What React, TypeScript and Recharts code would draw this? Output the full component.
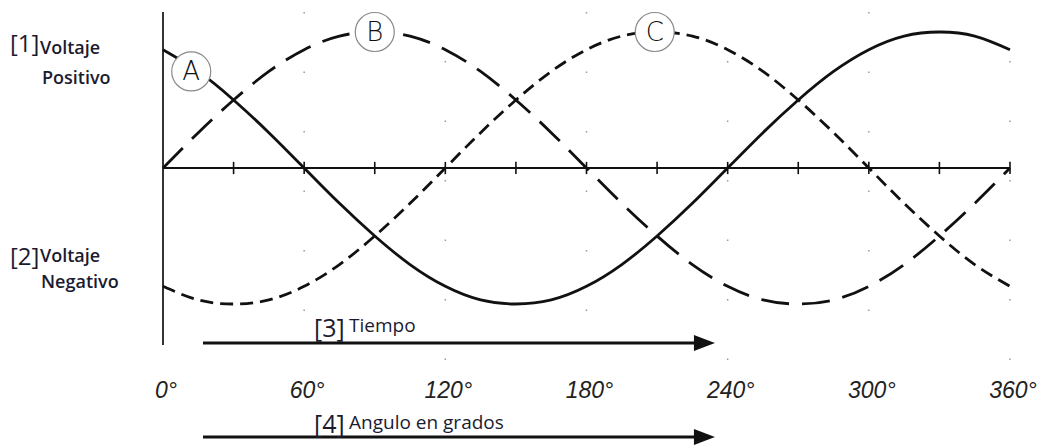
import React from "react";
import { LineChart, Line, XAxis, YAxis, ReferenceLine, ReferenceDot } from "recharts";

// angle samples (degrees) and the three phase voltages
const angles = [0, 15, 30, 45, 60, 75, 90, 105, 120, 135, 150, 165, 180, 195, 210, 225, 240, 255, 270, 285, 300, 315, 330, 345, 360];
const phaseA = [0.87, 0.71, 0.5, 0.26, 0, -0.26, -0.5, -0.71, -0.87, -0.97, -1, -0.97, -0.87, -0.71, -0.5, -0.26, 0, 0.26, 0.5, 0.71, 0.87, 0.97, 1, 0.97, 0.87];
const phaseB = [0, 0.26, 0.5, 0.71, 0.87, 0.97, 1, 0.97, 0.87, 0.71, 0.5, 0.26, 0, -0.26, -0.5, -0.71, -0.87, -0.97, -1, -0.97, -0.87, -0.71, -0.5, -0.26, 0];
const phaseC = [-0.87, -0.97, -1, -0.97, -0.87, -0.71, -0.5, -0.26, 0, 0.26, 0.5, 0.71, 0.87, 0.97, 1, 0.97, 0.87, 0.71, 0.5, 0.26, 0, -0.26, -0.5, -0.71, -0.87];

const tickLabels = [0, 60, 120, 180, 240, 300, 360];
const axisMarks = [30, 60, 90, 120, 150, 180, 210, 240, 270, 300, 330, 360];
const dotColumnsA = [60, 180, 300];
const dotColumnsB = [120, 240, 360];

// circled letters: [letter, angle, value]
const markers: [string, number, number][] = [
  ["A", 12, 0.71],
  ["B", 90, 1],
  ["C", 209, 1],
];

const data = angles.map((a, i) => ({ angle: a, A: phaseA[i], B: phaseB[i], C: phaseC[i] }));

const INK = "#111";
const TEXT = "#1b1b30";

const AngleTick = (props: any) => {
  const { x, y, payload } = props;
  return (
    <text
      x={x + 3}
      y={y + 53}
      textAnchor="middle"
      fontFamily="Liberation Sans, Arial, sans-serif"
      fontStyle="italic"
      fontSize={23}
      fill="#222"
    >
      {payload.value}°
    </text>
  );
};

const Arrow = (p: any) => (
  <g>
    <line x1={p.x1} y1={p.y1} x2={p.x2 - 16} y2={p.y2} stroke={INK} strokeWidth={3} />
    <polygon
      points={`${p.x2},${p.y2} ${p.x2 - 21},${p.y2 - 8} ${p.x2 - 21},${p.y2 + 8}`}
      fill={INK}
    />
  </g>
);

const circled = (letter: string) => (p: any) => (
  <g>
    <circle cx={p.cx} cy={p.cy} r={19.5} fill="#fff" stroke="#8a8a8a" strokeWidth={1.2} />
    <text
      x={p.cx}
      y={p.cy + 9}
      textAnchor="middle"
      fontFamily="DejaVu Sans, sans-serif"
      fontWeight={200}
      fontSize={26}
      fill={INK}
    >
      {letter}
    </text>
  </g>
);

export default function App() {
  const labelFont = "Open Sans, Noto Sans, sans-serif";
  return (
    <div style={{ position: "absolute", left: 0, top: 0, width: 1046, height: 445, background: "#fff" }}>
      <LineChart
        width={1046}
        height={445}
        data={data}
        margin={{ top: 12, right: 36, left: 163, bottom: 40 }}
      >
        <XAxis
          dataKey="angle"
          type="number"
          domain={[0, 360]}
          ticks={tickLabels}
          interval={0}
          height={60}
          axisLine={false}
          tickLine={false}
          tickSize={0}
          tickMargin={0}
          tick={<AngleTick />}
        />
        <YAxis hide domain={[-1.3015, 1.147]} allowDataOverflow />

        {dotColumnsA.map((x) => (
          <ReferenceLine
            key={`da${x}`}
            segment={[{ x, y: 1.147 }, { x, y: -1.46 }]}
            stroke="#9a9a9a"
            strokeWidth={1.5}
            strokeDasharray="1.5 58"
            ifOverflow="visible"
          />
        ))}
        {dotColumnsB.map((x) => (
          <ReferenceLine
            key={`db${x}`}
            segment={[{ x, y: 1.147 }, { x, y: -1.46 }]}
            stroke="#9a9a9a"
            strokeWidth={1.5}
            strokeDasharray="1.5 58"
            strokeDashoffset={-49}
            ifOverflow="visible"
          />
        ))}

        <ReferenceLine x={0} stroke="#333" strokeWidth={2} ifOverflow="visible" />
        <ReferenceLine y={0} stroke={INK} strokeWidth={2} />
        {axisMarks.map((x) => (
          <ReferenceLine
            key={`t${x}`}
            segment={[{ x, y: -0.045 }, { x, y: 0.045 }]}
            stroke={INK}
            strokeWidth={1.6}
            ifOverflow="visible"
          />
        ))}

        <Line type="natural" dataKey="A" stroke={INK} strokeWidth={2.8} dot={false} isAnimationActive={false} />
        <Line type="natural" dataKey="B" stroke={INK} strokeWidth={2.8} strokeDasharray="28 13" dot={false} isAnimationActive={false} />
        <Line type="natural" dataKey="C" stroke={INK} strokeWidth={2.8} strokeDasharray="13 7" dot={false} isAnimationActive={false} />

        {markers.map(([letter, x, y]) => (
          <ReferenceDot key={letter} x={x} y={y} r={19} ifOverflow="visible" shape={circled(letter)} />
        ))}

        <ReferenceLine segment={[{ x: 17, y: -1.287 }, { x: 234.6, y: -1.287 }]} ifOverflow="visible" shape={Arrow} />
        <ReferenceLine segment={[{ x: 17, y: -1.978 }, { x: 234.6, y: -1.978 }]} ifOverflow="visible" shape={Arrow} />
      </LineChart>

      <svg
        width={1046}
        height={445}
        style={{ position: "absolute", left: 0, top: 0, pointerEvents: "none" }}
      >
        <g fontFamily={labelFont} fill={TEXT}>
          <text x={10} y={52} fontSize={24}>[1]</text>
          <text x={40} y={54} fontSize={18} fontWeight={600}>Voltaje</text>
          <text x={42} y={84} fontSize={18} fontWeight={600}>Positivo</text>

          <text x={10} y={265} fontSize={24}>[2]</text>
          <text x={40} y={262} fontSize={18} fontWeight={600}>Voltaje</text>
          <text x={41} y={288} fontSize={18} fontWeight={600}>Negativo</text>

          <text x={314} y={337} fontSize={25}>[3]</text>
          <text x={349} y={332} fontSize={19}>Tiempo</text>

          <text x={314} y={433} fontSize={25}>[4]</text>
          <text x={349} y={429} fontSize={19}>Angulo en grados</text>
        </g>
      </svg>
    </div>
  );
}
